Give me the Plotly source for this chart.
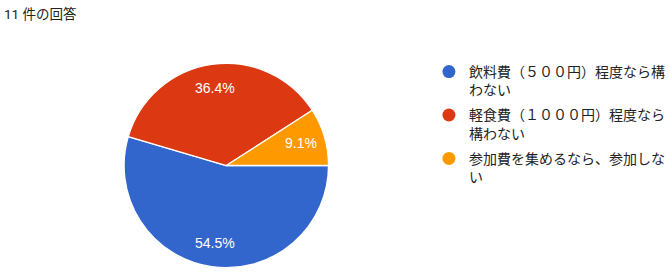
import math
import plotly.graph_objects as go

title_text = "11 件の回答"
labels = ["飲料費（５００円）程度なら構<br>わない",
          "軽食費（１０００円）程度なら<br>構わない",
          "参加費を集めるなら、参加しな<br>い"]
values = [6, 4, 1]
colors = ["#3366cc", "#dc3912", "#ff9900"]

FONT = "Roboto, 'Noto Sans CJK JP', Arial, sans-serif"
PCT_FONT = "Arial, 'Liberation Sans', sans-serif"
W, H = 670, 280
dom_x = [0.1866, 0.4940]
dom_y = [0.0410, 0.7768]
start_deg = 90  # clockwise from 12 o'clock

fig = go.Figure()
fig.add_trace(go.Pie(
    labels=labels, values=values, sort=False, direction="clockwise", rotation=start_deg,
    marker=dict(colors=colors, line=dict(color="white", width=1.3)),
    textinfo="none",
    showlegend=False, hoverinfo="label+value+percent",
    domain=dict(x=dom_x, y=dom_y),
))
for lab, col in zip(labels, colors):
    fig.add_trace(go.Scatter(
        x=[None], y=[None], mode="markers", name=lab, legendgroup=lab,
        marker=dict(color=col, size=13, symbol="circle"), showlegend=True,
    ))

# percentage labels placed along each slice's mid-angle (Google Charts style)
cx = (dom_x[0] + dom_x[1]) / 2 * W
cy = (dom_y[0] + dom_y[1]) / 2 * H
R = min((dom_x[1] - dom_x[0]) * W, (dom_y[1] - dom_y[0]) * H) / 2
total = sum(values)
annotations = []
acc = 0
for v in values:
    mid = math.radians(start_deg + (acc + v / 2) / total * 360)
    acc += v
    k = 0.76
    px = cx + math.sin(mid) * R * k
    py = cy + math.cos(mid) * R * k
    annotations.append(dict(text=f"{v / total * 100:.1f}%", x=px / W, y=py / H,
                            xref="paper", yref="paper", showarrow=False,
                            xanchor="center", yanchor="middle",
                            font=dict(size=14, color="white", family=PCT_FONT)))
annotations.append(dict(text=title_text, x=0.003, y=1 - 14 / H, xref="paper", yref="paper",
                        xanchor="left", yanchor="middle", showarrow=False,
                        font=dict(size=13.5, color="#222222", family=FONT)))

fig.update_layout(
    width=W, height=H, margin=dict(l=0, r=0, t=0, b=0),
    paper_bgcolor="white", plot_bgcolor="white",
    xaxis=dict(visible=False), yaxis=dict(visible=False),
    font=dict(family=FONT, color="#222222", size=14),
    legend=dict(x=0.645, y=0.80, xanchor="left", yanchor="top", valign="top",
                tracegroupgap=4, itemwidth=30, font=dict(size=14, color="#222222"),
                bgcolor="rgba(0,0,0,0)"),
    annotations=annotations,
)
fig.write_html("out.html")
